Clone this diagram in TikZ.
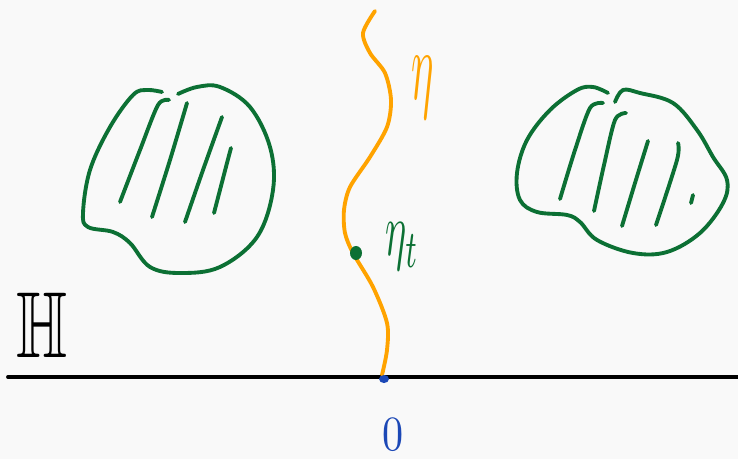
\documentclass[tikz,border=0pt]{standalone}
\usepackage{amsmath, amssymb}
\usepackage{graphicx}
\usepackage{tikz}
\usetikzlibrary{positioning}
\definecolor{InkGreen}{RGB}{12,112,52}
\definecolor{InkOrange}{RGB}{255,163,0}
\definecolor{InkBlue}{RGB}{28,72,182}
\definecolor{PaperGray}{RGB}{249,249,249}
\tikzset{
  ink/.style={line width=3.3pt, line cap=round, line join=round},
  hatch/.style={ink, InkGreen},
}
\begin{document}
\begin{tikzpicture}[x=0.03cm, y=-0.03cm]
          \fill[PaperGray] (0,0) rectangle (738,459);
          \useasboundingbox (0,0) rectangle (738,459);
          % real line
          \draw[ink, black] (8,377) -- (738,377);
          % left blob
          \draw[hatch] plot[smooth, tension=0.6] coordinates {(162,92) (147,90) (133,95) (110,127) (90,170) (83,213) (88,227) (113,232) (130,243) (150,267) (180,273) (220,267) (257,237) (273,190) (270,147) (250,107) (220,87) (197,87) (178,94)};
          \draw[hatch] plot[smooth] coordinates {(169,100) (158,105) (140,150) (120,202)};
          \draw[hatch] plot[smooth] coordinates {(187,103) (170,160) (152,217)};
          \draw[hatch] plot[smooth] coordinates {(222,117) (203,170) (185,222)};
          \draw[hatch] plot[smooth] coordinates {(231,148) (227,163) (214,213)};
          % right blob
          \draw[hatch] plot[smooth, tension=0.6] coordinates {(608,93) (593,87) (577,90) (550,110) (527,140) (517,173) (520,200) (537,212) (567,215) (580,222) (597,240) (633,253) (667,252) (700,233) (723,203) (727,180) (713,157) (697,130) (673,103) (640,93) (623,90) (615,102)};
          \draw[hatch] plot[smooth] coordinates {(603,103) (590,108) (575,150) (560,199)};
          \draw[hatch] plot[smooth] coordinates {(626,113) (615,120) (604,165) (594,211)};
          \draw[hatch] plot[smooth] coordinates {(648,141) (635,183) (622,226)};
          \draw[hatch] plot[smooth] coordinates {(678,143) (677,160) (656,225)};
          \draw[hatch] (693,195) -- (691,203);
          % curve eta
          \draw[ink, InkOrange] plot[smooth] coordinates {(375,11) (363,33) (370,53) (385,73) (391,100) (387,127) (370,157) (350,187) (344,210) (345,233) (353,253) (373,287) (387,323) (387,350) (382,375)};
          \fill[InkGreen] (356,253) ellipse (6 and 7);
          \fill[InkBlue] (384,379) ellipse (5 and 4);
          % labels
          \node[anchor=base, inner sep=0pt] (hlabel) at (42,357) {\scalebox{5.6}[8]{$\mathbb{H}$}};
          \node[anchor=base, inner sep=0pt, InkOrange] (etalabel) at (423,100) {\scalebox{3.6}[8.5]{$\eta$}};
          \node[anchor=base west, inner sep=0pt, InkGreen] (etatlabel) at (385,256) {\scalebox{3.4}[6.5]{$\eta_t$}};
          \node[anchor=base, inner sep=0pt, InkBlue] (zerolabel) at (393,450) {\scalebox{3.6}[4.2]{$0$}};
        \end{tikzpicture}
\end{document}
